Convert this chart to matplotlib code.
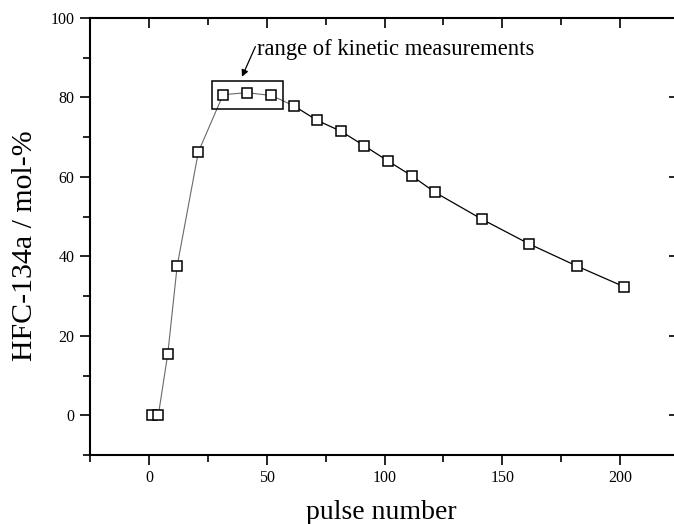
import matplotlib
matplotlib.use("Agg")
import matplotlib.pyplot as plt
from matplotlib.patches import Rectangle
from matplotlib.ticker import MultipleLocator

# ---- data ----
pulse = [1.5, 4, 8, 12, 21, 31.5, 41.5, 52, 61.5, 71.5, 81.5, 91.5, 101.5,
         111.5, 121.5, 141.5, 161.5, 181.5, 201.5]
hfc = [0.0, 0.0, 15.4, 37.6, 66.3, 80.7, 81.2, 80.5, 77.9, 74.2, 71.5, 67.8,
       64.0, 60.3, 56.1, 49.3, 43.1, 37.6, 32.4]
kinetic_x = (26.8, 56.9)
kinetic_y = (77.2, 84.2)
annot_text = "range of kinetic measurements"
xlabel = "pulse number"
ylabel = "HFC-134a / mol-%"

plt.rcParams['font.family'] = ['Liberation Serif', 'DejaVu Serif']

fig = plt.figure(figsize=(6.74, 5.24), dpi=100)
ax = fig.add_axes([90/674, 1-455/524, 589/674, (455-18)/524])

split = 8
ax.plot(pulse[:split+1], hfc[:split+1], color='#6a6a6a', lw=0.8, zorder=2)
ax.plot(pulse[split:], hfc[split:], color='black', lw=0.9, zorder=2)
ax.plot(pulse, hfc, ls='none', marker='s', ms=7.3, mfc='white', mec='black',
        mew=1.1, zorder=3)

ax.set_xlim(-25, 225)
ax.set_ylim(-10, 100)
ax.xaxis.set_major_locator(MultipleLocator(50))
ax.xaxis.set_minor_locator(MultipleLocator(25))
ax.yaxis.set_major_locator(MultipleLocator(20))
ax.yaxis.set_minor_locator(MultipleLocator(10))

for s in ax.spines.values():
    s.set_linewidth(1.5)

ax.tick_params(which='both', direction='out', width=1.2, labelsize=11.5)
ax.tick_params(which='major', length=7, pad=4)
ax.tick_params(which='minor', length=5)

# mirrored inward ticks on top (major+minor) and right (major only)
ax.tick_params(which='both', top=True, labeltop=False)
ax.tick_params(which='major', right=True, labelright=False)
ax.tick_params(which='minor', right=False)
for t in ax.xaxis.get_major_ticks() + ax.xaxis.get_minor_ticks():
    t.tick2line.set_marker(3)  # inward on top
for t in ax.yaxis.get_major_ticks():
    t.tick2line.set_marker(0)  # inward on right

ax.set_xlabel(xlabel, fontsize=20, labelpad=10)
ax.xaxis.label.set_x(0.495)
ax.set_ylabel(ylabel, fontsize=21.5, labelpad=9)
ax.yaxis.label.set_y(0.478)

ax.add_patch(Rectangle((kinetic_x[0], kinetic_y[0]), kinetic_x[1]-kinetic_x[0],
                       kinetic_y[1]-kinetic_y[0], fill=False, ec='black', lw=1.1,
                       zorder=4))
ax.text(45.8, 90.6, annot_text, fontsize=16.3, ha='left', va='baseline')
ax.annotate('', xy=(39.5, 85.2), xytext=(45.2, 92.8),
            arrowprops=dict(arrowstyle='-|>', color='black', lw=0.9,
                            mutation_scale=10, shrinkA=0, shrinkB=0))

fig.savefig('out.png', dpi=100)
